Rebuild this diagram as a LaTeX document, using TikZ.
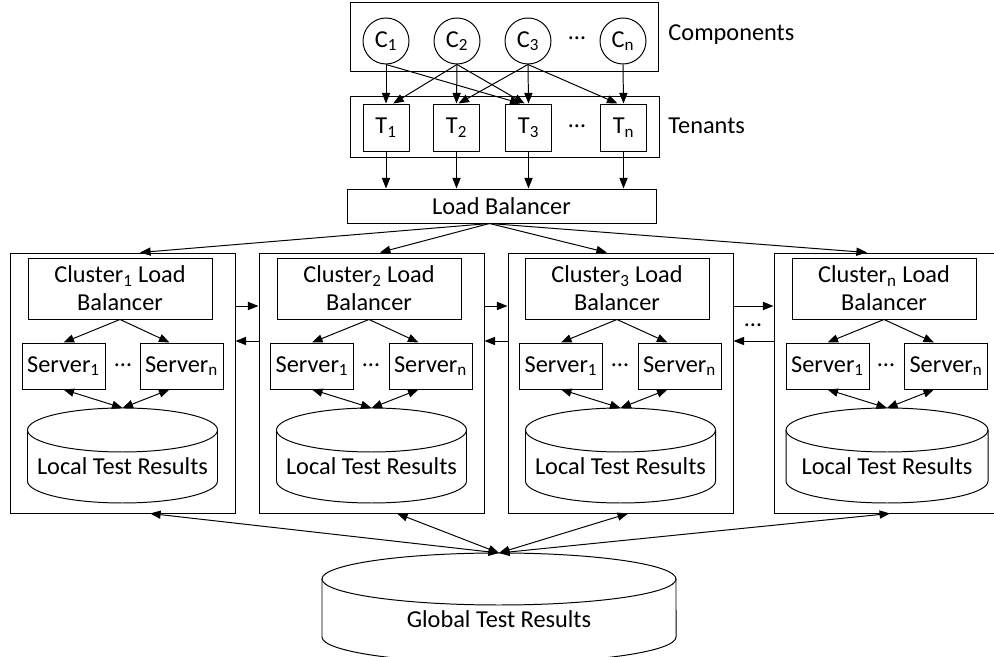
\documentclass[tikz,border=0pt]{standalone}
\usepackage{fontspec}
\setmainfont{Carlito}
\usetikzlibrary{arrows.meta}

\begin{document}
\begin{tikzpicture}
  [line width=0.7pt,
   every node/.style={font=\fontsize{17.3}{20}\selectfont,inner sep=0pt},
   box/.style={draw,rectangle},
   comp/.style={draw,circle,minimum size=1.15cm},
   ten/.style={draw,minimum width=1.15cm,minimum height=1.175cm},
   srv/.style={draw,minimum width=2.075cm,minimum height=1.15cm},
   clb/.style={draw,align=center,minimum width=4.6cm,minimum height=1.525cm},
   cl/.style={draw,minimum width=5.625cm,minimum height=6.5cm},
   arr/.style={-{Triangle[length=7.5pt,width=5.8pt]}},
   darr/.style={{Triangle[length=7.5pt,width=5.8pt]}-{Triangle[length=7.5pt,width=5.8pt]}}]
  \clip (0,0) rectangle (24.85,16.425);

  % components
  \node[box,minimum width=7.7cm,minimum height=1.725cm] (comps) at (12.6,15.4875) {};
  \node[comp] (c1) at (9.65,15.4) {C\textsubscript{1}};
  \node[comp] (c2) at (11.425,15.4) {C\textsubscript{2}};
  \node[comp] (c3) at (13.2,15.4) {C\textsubscript{3}};
  \node (cdots) at (14.425,15.475) {\textellipsis};
  \node[comp] (cn) at (15.575,15.4) {C\textsubscript{n}};
  \node[anchor=west] (complbl) at (16.7,15.55) {Components};

  % tenants
  \node[box,minimum width=7.725cm,minimum height=1.525cm] (tens) at (12.6125,13.2625) {};
  \node[ten] (t1) at (9.65,13.2375) {T\textsubscript{1}};
  \node[ten] (t2) at (11.4125,13.2375) {T\textsubscript{2}};
  \node[ten] (t3) at (13.2125,13.2375) {T\textsubscript{3}};
  \node (tdots) at (14.425,13.275) {\textellipsis};
  \node[ten] (tn) at (15.5875,13.2375) {T\textsubscript{n}};
  \node[anchor=west] (tenlbl) at (16.7,13.275) {Tenants};

  \node[box,minimum width=7.725cm,minimum height=0.85cm] (lb) at (12.5375,11.275) {Load Balancer};

  % clusters
  \node[cl] (cl1) at (3.0625,6.85) {};
  \node[cl] (cl2) at (9.2875,6.85) {};
  \node[cl] (cl3) at (15.5125,6.85) {};
  \node[cl] (cln) at (22.1625,6.85) {};

  \node[clb] (clb1) at (3.0,9.2125) {Cluster\textsubscript{1} Load\\Balancer};
  \node[srv] (s11) at (1.5875,7.275) {Server\textsubscript{1}};
  \node (s1dots) at (3.075,7.3) {\textellipsis};
  \node[srv] (s1n) at (4.5375,7.275) {Server\textsubscript{n}};
  \draw (0.6875,5.675) -- (0.6875,4.4) arc[start angle=180,end angle=360,x radius=2.375,y radius=0.55] -- (5.4375,5.675);
  \draw (3.0625,5.675) ellipse[x radius=2.375,y radius=0.55];
  \node (db1) at (3.0625,4.775) {Local Test Results};
  \coordinate (db1top) at (3.0625,6.225);

  \node[clb] (clb2) at (9.225,9.2125) {Cluster\textsubscript{2} Load\\Balancer};
  \node[srv] (s21) at (7.8,7.275) {Server\textsubscript{1}};
  \node (s2dots) at (9.275,7.3) {\textellipsis};
  \node[srv] (s2n) at (10.7625,7.275) {Server\textsubscript{n}};
  \draw (6.9125,5.675) -- (6.9125,4.4) arc[start angle=180,end angle=360,x radius=2.375,y radius=0.55] -- (11.6625,5.675);
  \draw (9.2875,5.675) ellipse[x radius=2.375,y radius=0.55];
  \node (db2) at (9.2875,4.775) {Local Test Results};
  \coordinate (db2top) at (9.2875,6.225);

  \node[clb] (clb3) at (15.425,9.2125) {Cluster\textsubscript{3} Load\\Balancer};
  \node[srv] (s31) at (14.025,7.275) {Server\textsubscript{1}};
  \node (s3dots) at (15.5,7.3) {\textellipsis};
  \node[srv] (s3n) at (16.9875,7.275) {Server\textsubscript{n}};
  \draw (13.1375,5.675) -- (13.1375,4.4) arc[start angle=180,end angle=360,x radius=2.375,y radius=0.55] -- (17.8875,5.675);
  \draw (15.5125,5.675) ellipse[x radius=2.375,y radius=0.55];
  \node (db3) at (15.5125,4.775) {Local Test Results};
  \coordinate (db3top) at (15.5125,6.225);

  \node[clb] (clbn) at (22.1,9.2125) {Cluster\textsubscript{n} Load\\Balancer};
  \node[srv] (sn1) at (20.6875,7.275) {Server\textsubscript{1}};
  \node (sndots) at (22.15,7.3) {\textellipsis};
  \node[srv] (snn) at (23.65,7.275) {Server\textsubscript{n}};
  \draw (19.65,5.675) -- (19.65,4.4) arc[start angle=180,end angle=360,x radius=2.525,y radius=0.55] -- (24.7,5.675);
  \draw (22.175,5.675) ellipse[x radius=2.525,y radius=0.55];
  \node (dbn) at (22.175,4.775) {Local Test Results};
  \coordinate (dbntop) at (22.175,6.225);

  % global results
  \draw (8.05,1.95) -- (8.05,0.5) arc[start angle=180,end angle=360,x radius=4.425,y radius=0.65] -- (16.9,1.95);
  \draw (12.475,1.95) ellipse[x radius=4.425,y radius=0.65];
  \node (gdb) at (12.475,0.95) {Global Test Results};
  \coordinate (gtop) at (12.475,2.6);

  % components to tenants
  \draw[arr] (c1.south) -- (t1.north);
  \draw[arr] (c1.south) -- ([xshift=-0.2cm]t3.north);
  \draw[arr] (c2.south) -- ([xshift=0.18cm]t1.north);
  \draw[arr] (c2.south) -- (t2.north);
  \draw[arr] (c2.south) -- ([xshift=-0.1cm]t3.north);
  \draw[arr] (c3.south) -- ([xshift=0.05cm]t2.north);
  \draw[arr] (c3.south) -- (t3.north);
  \draw[arr] (c3.south) -- ([xshift=-0.15cm]tn.north);
  \draw[arr] (cn.south) -- (tn.north);

  % tenants to load balancer
  \draw[arr] (t1) -- (t1 |- lb.north);
  \draw[arr] (t2) -- (t2 |- lb.north);
  \draw[arr] (t3) -- (t3 |- lb.north);
  \draw[arr] (tn) -- (tn |- lb.north);

  % load balancer to clusters
  \draw[arr] ([xshift=-0.3cm]lb.south) -- ([xshift=0.44cm]cl1.north);
  \draw[arr] ([xshift=-0.3cm]lb.south) -- ([xshift=0.21cm]cl2.north);
  \draw[arr] ([xshift=-0.3cm]lb.south) -- ([xshift=-0.34cm]cl3.north);
  \draw[arr] ([xshift=-0.3cm]lb.south) -- ([xshift=-0.49cm]cln.north);

  % inside the clusters
  \draw[arr] (clb1.south) -- (s11.north);
  \draw[arr] (clb1.south) -- ([xshift=-0.3cm]s1n.north);
  \draw[darr] (s11.south) -- (db1top);
  \draw[darr] ([xshift=-0.3cm]s1n.south) -- (db1top);
  \draw[arr] (clb2.south) -- (s21.north);
  \draw[arr] (clb2.south) -- ([xshift=-0.3cm]s2n.north);
  \draw[darr] (s21.south) -- (db2top);
  \draw[darr] ([xshift=-0.3cm]s2n.south) -- (db2top);
  \draw[arr] (clb3.south) -- (s31.north);
  \draw[arr] (clb3.south) -- ([xshift=-0.3cm]s3n.north);
  \draw[darr] (s31.south) -- (db3top);
  \draw[darr] ([xshift=-0.3cm]s3n.south) -- (db3top);
  \draw[arr] (clbn.south) -- (sn1.north);
  \draw[arr] (clbn.south) -- ([xshift=-0.3cm]snn.north);
  \draw[darr] (sn1.south) -- (dbntop);
  \draw[darr] ([xshift=-0.3cm]snn.south) -- (dbntop);

  % between clusters
  \draw[arr] ([yshift=1.925cm]cl1.east) -- ([yshift=1.925cm]cl2.west);
  \draw[arr] ([yshift=1.05cm]cl2.west) -- ([yshift=1.05cm]cl1.east);
  \draw[arr] ([yshift=1.925cm]cl2.east) -- ([yshift=1.925cm]cl3.west);
  \draw[arr] ([yshift=1.05cm]cl3.west) -- ([yshift=1.05cm]cl2.east);
  \draw[arr] ([yshift=1.925cm]cl3.east) -- ([yshift=1.925cm]cln.west);
  \draw[arr] ([yshift=1.05cm]cln.west) -- ([yshift=1.05cm]cl3.east);
  \node (cldots) at (18.825,8.3) {\textellipsis};

  % clusters to global results
  \draw[darr] ([xshift=0.69cm]cl1.south) -- (gtop);
  \draw[darr] ([xshift=0.64cm]cl2.south) -- (gtop);
  \draw[darr] ([xshift=0.19cm]cl3.south) -- (gtop);
  \draw[darr] ([xshift=0.09cm]cln.south) -- (gtop);
\end{tikzpicture}
\end{document}
